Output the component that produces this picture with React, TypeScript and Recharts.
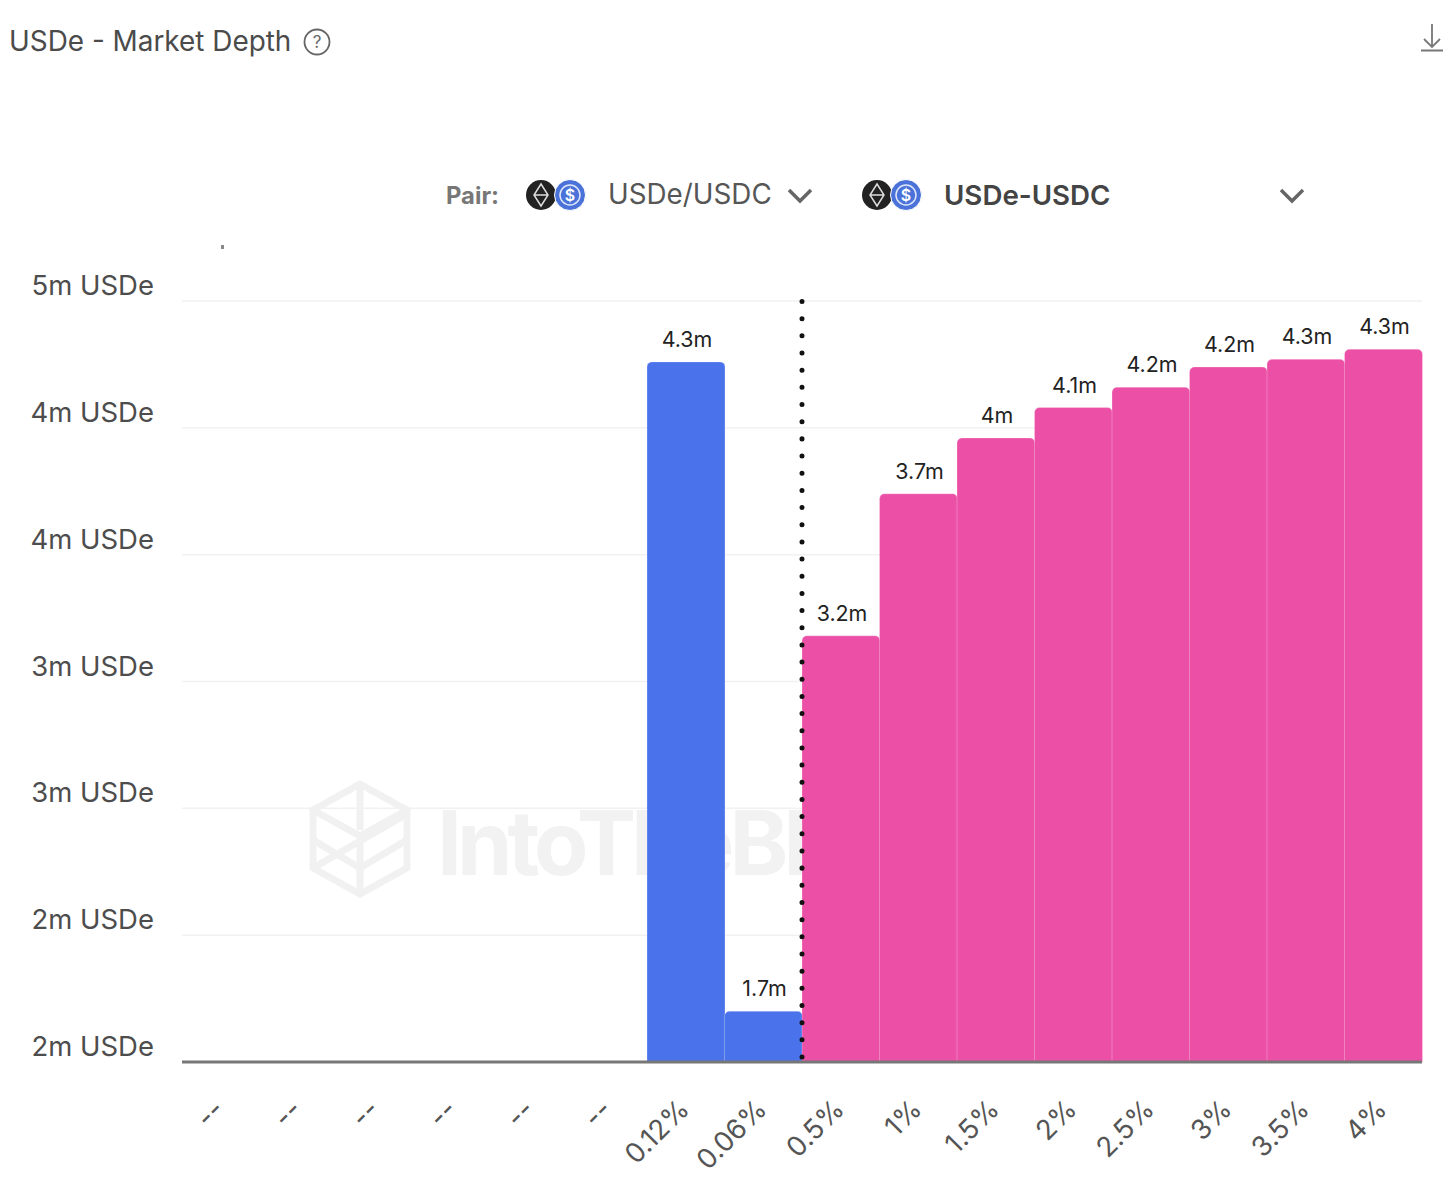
import { Bar, BarChart, CartesianGrid, Cell, LabelList, ReferenceLine, XAxis, YAxis } from "recharts";

const FONT = "Inter, 'Noto Sans', sans-serif";

const emptyLevels = ["--", "--", "--", "--", "--", "--"];
const bidLevels = ["0.12%", "0.06%"];
const askLevels = ["0.5%", "1%", "1.5%", "2%", "2.5%", "3%", "3.5%", "4%"];
const bidDepth = [4.26, 1.7];
const askDepth = [3.18, 3.74, 3.96, 4.08, 4.16, 4.24, 4.27, 4.31];
const yTicks = [1.5, 2, 2.5, 3, 3.5, 4, 4.5];
const pairs = ["USDe/USDC", "USDe-USDC"];

const levels = [...emptyLevels, ...bidLevels, ...askLevels];
const depth = [...emptyLevels.map(() => null), ...bidDepth, ...askDepth];
const data = levels.map((level, i) => ({ level, depth: depth[i] }));

const BLUE = "#4a72ea";
const PINK = "#ec4fa6";

const formatDepth = (v: any) => (v == null ? "" : `${parseFloat(Number(v).toFixed(1))}m`);

function YTick({ x, y, payload }: any) {
  return (
    <text x={x} y={y - 16} textAnchor="end" dominantBaseline="central" fontSize={27.5} fill="#4d4d4d" fontFamily={FONT}>
      {`${Math.round(payload.value)}m USDe`}
    </text>
  );
}

function XTick({ x, y, payload }: any) {
  const tx = x + 5;
  const ty = y + 41;
  return (
    <text x={tx} y={ty} textAnchor="end" fontSize={27.5} fill="#555" fontFamily={FONT} transform={`rotate(-45 ${tx} ${ty})`}>
      {payload.value}
    </text>
  );
}

function TokenIcons({ left, top }: { left: number; top: number }) {
  return (
    <svg width={64} height={36} style={{ position: "absolute", left, top }}>
      <circle cx={18} cy={18} r={15} fill="#222" />
      <path d="M18 7 L25 18 L18 29 L11 18 Z M11 18 H25" fill="none" stroke="#ddd" strokeWidth={1.5} />
      <circle cx={47} cy={18} r={15.5} fill="#4a72d8" stroke="#fff" strokeWidth={1} />
      <circle cx={47} cy={18} r={10} fill="none" stroke="#dfe7fa" strokeWidth={1.5} />
      <text x={47} y={24} textAnchor="middle" fontSize={16} fontWeight={600} fill="#fff" fontFamily={FONT}>$</text>
    </svg>
  );
}

function Chevron({ left, top }: { left: number; top: number }) {
  return (
    <svg width={28} height={18} style={{ position: "absolute", left, top }}>
      <path d="M3 3 L14 14 L25 3" fill="none" stroke="#666" strokeWidth={3.5} />
    </svg>
  );
}

const label = (left: number, top: number, size: number, color: string, weight: number) =>
  ({
    position: "absolute",
    left,
    top,
    fontSize: size,
    color,
    fontWeight: weight,
    fontFamily: FONT,
    lineHeight: 1,
    whiteSpace: "nowrap",
  }) as const;

export default function App() {
  return (
    <div style={{ position: "absolute", left: 0, top: 0, width: 1452, height: 1190, background: "#fff", overflow: "hidden" }}>
      <div style={label(9, 28, 27.9, "#4b4b4b", 400)}>USDe - Market Depth</div>
      <svg width={30} height={30} style={{ position: "absolute", left: 302, top: 27 }}>
        <circle cx={15} cy={15} r={12.5} fill="none" stroke="#666" strokeWidth={1.8} />
        <text x={15} y={21} textAnchor="middle" fontSize={17} fill="#666" fontFamily={FONT}>?</text>
      </svg>
      <svg width={30} height={40} style={{ position: "absolute", left: 1417, top: 20 }}>
        <path d="M15 4 V27 M7 19 L15 27 L23 19 M4 30.5 H26" fill="none" stroke="#777" strokeWidth={1.8} />
      </svg>

      <div style={label(446, 184, 23.8, "#777", 700)}>Pair:</div>
      <TokenIcons left={523} top={177} />
      <div style={label(608, 181, 27.8, "#565656", 400)}>{pairs[0]}</div>
      <Chevron left={786} top={187} />
      <TokenIcons left={859} top={177} />
      <div style={label(944, 182, 27.7, "#444", 600)}>{pairs[1]}</div>
      <Chevron left={1278} top={187} />
      <div style={{ position: "absolute", left: 221, top: 245, width: 3, height: 4, background: "#888" }} />

      <svg width={110} height={120} style={{ position: "absolute", left: 305, top: 780 }}>
        <path
          d="M55 4 L102 30 L102 88 L55 114 L8 88 L8 30 Z M55 4 L55 50 M8 30 L55 56 L102 30 M8 88 L102 34 M55 60 L55 114 M8 60 L55 88 L102 60"
          fill="none"
          stroke="#f1f1f1"
          strokeWidth={7}
        />
      </svg>
      <div style={{ ...label(437, 798, 89, "#f2f2f2", 700), letterSpacing: -5 }}>IntoTheBlock</div>

      <div style={{ position: "absolute", left: 0, top: 0 }}>
        <BarChart
          width={1452}
          height={1190}
          data={data}
          barCategoryGap={0}
          margin={{ top: 301, right: 30, bottom: 0, left: 0 }}
        >
          <CartesianGrid vertical={false} stroke="#f1f1f1" strokeWidth={1.5} />
          <XAxis
            dataKey="level"
            interval={0}
            height={128}
            tickLine={false}
            axisLine={{ stroke: "#777", strokeWidth: 3 }}
            tick={<XTick />}
          />
          <YAxis
            width={182}
            domain={[1.5, 4.5]}
            ticks={yTicks}
            allowDataOverflow
            tickSize={0}
            tickMargin={28}
            axisLine={false}
            tick={<YTick />}
          />
          <Bar dataKey="depth" isAnimationActive={false} radius={[5, 5, 0, 0]} stroke="#fff" strokeOpacity={0.25}>
            {data.map((row, i) => (
              <Cell key={i} fill={i < emptyLevels.length + bidLevels.length ? BLUE : PINK} />
            ))}
            <LabelList
              dataKey="depth"
              position="top"
              offset={15}
              dx={1}
              formatter={formatDepth}
              style={{ fontSize: 21.4, fill: "#222", fontFamily: FONT }}
            />
          </Bar>
          <ReferenceLine
            x={levels.indexOf("0.5%")}
            position="start"
            stroke="#111"
            strokeWidth={5}
            strokeDasharray="0.01 17.16"
            strokeDashoffset={-5}
            strokeLinecap="round"
          />
        </BarChart>
      </div>
    </div>
  );
}
